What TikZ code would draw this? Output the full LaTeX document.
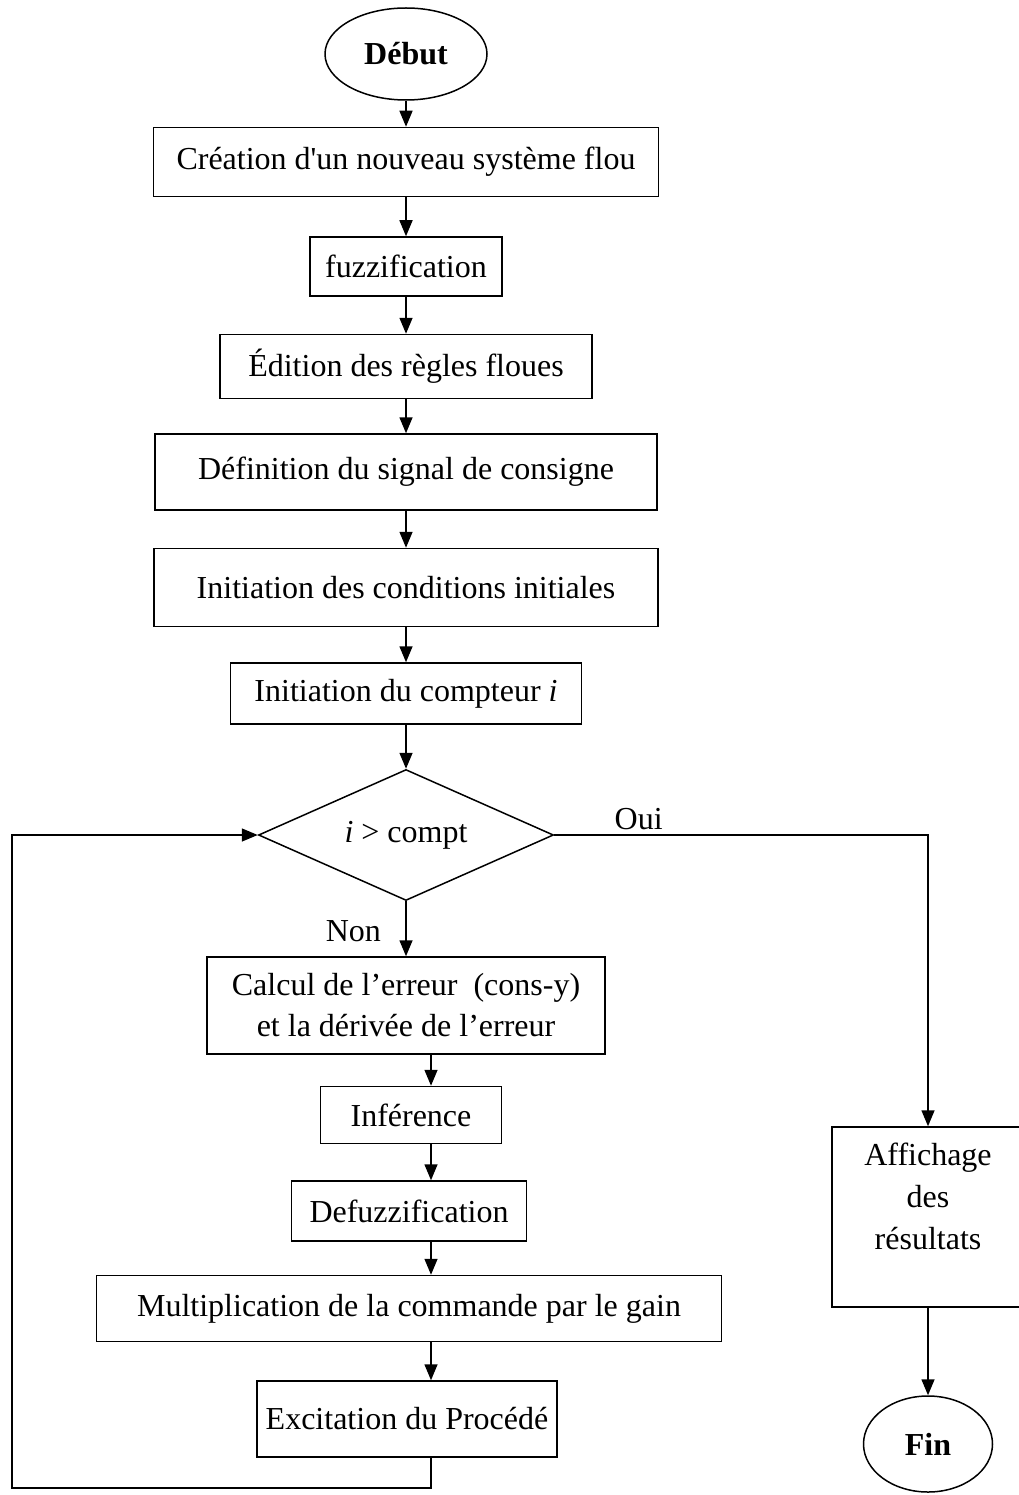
\documentclass[tikz,border=0pt]{standalone}
\usepackage{fontspec}
\newfontfamily\timesfont{Liberation Serif}
\usetikzlibrary{shapes.geometric, arrows.meta, positioning}

\begin{document}
\begin{tikzpicture}[
    x=1pt, y=1pt,
    every node/.style={font=\timesfont\fontsize{32}{41}\selectfont},
    box/.style={rectangle, draw, line width=1.5pt, inner sep=0pt, align=center},
    term/.style={ellipse, draw, line width=1.5pt, inner sep=0pt, font=\timesfont\bfseries\fontsize{32}{41}\selectfont},
    decision/.style={diamond, aspect=2.25, draw, line width=1.5pt, inner sep=0pt, minimum width=295pt, minimum height=131pt},
    arrow/.style={-{Triangle[length=16pt, width=13pt]}, line width=1.5pt}
]
    \useasboundingbox (0,0) rectangle (1018,-1495);

    % Main column
    \node[term, minimum width=162pt, minimum height=92pt] (debut) at (406,-54) {Début};
    \node[box, minimum width=505pt, minimum height=69pt, below=26pt of debut] (creation) {Création d'un nouveau système flou};
    \node[box, minimum width=192pt, minimum height=59pt, below=39pt of creation] (fuzz) {fuzzification};
    \node[box, minimum width=372pt, minimum height=64pt, below=37pt of fuzz] (edition) {Édition des règles floues};
    \node[box, minimum width=502pt, minimum height=76pt, below=34pt of edition] (consigne) {Définition du signal de consigne};
    \node[box, minimum width=504pt, minimum height=78pt, below=37pt of consigne] (condinit) {Initiation des conditions initiales};
    \node[box, minimum width=351pt, minimum height=61pt, below=35pt of condinit] (compteur) {Initiation du compteur \textit{i}};
    \node[decision, below=44pt of compteur] (test) {\textit{i} > compt};

    % Loop body
    \node[box, minimum width=398pt, minimum height=97pt, below=55pt of test] (erreur) {Calcul de l’erreur\ \ (cons-y)\\et la dérivée de l’erreur};
    \node[box, minimum width=181pt, minimum height=57pt, below=31pt of erreur, xshift=5pt] (inference) {Inférence};
    \node[box, minimum width=235pt, minimum height=60pt, below=36pt of inference, xshift=-2pt] (defuzz) {Defuzzification};
    \node[box, minimum width=625pt, minimum height=66pt, below=33pt of defuzz] (gain) {Multiplication de la commande par le gain};
    \node[box, minimum width=300pt, minimum height=76pt, below=38pt of gain, xshift=-2pt] (procede) {Excitation du Procédé};

    % Exit branch
    \node[box, minimum width=192pt, minimum height=180pt, font=\timesfont\fontsize{32}{42}\selectfont] (affichage) at (928,-1217) {Affichage\\des\\résultats\\\mbox{}};
    \node[term, minimum width=129pt, minimum height=96pt] (fin) at (928,-1444) {Fin};

    \coordinate (lowcol) at (431,0);
    \coordinate (loopcorner) at (12,-1488);

    % Arrows
    \draw[arrow] (debut.south) -- (creation.north);
    \draw[arrow] (creation.south) -- (fuzz.north);
    \draw[arrow] (fuzz.south) -- (edition.north);
    \draw[arrow] (edition.south) -- (consigne.north);
    \draw[arrow] (consigne.south) -- (condinit.north);
    \draw[arrow] (condinit.south) -- (compteur.north);
    \draw[arrow] (compteur.south) -- (test.north);
    \draw[arrow] (test.south) -- node[pos=0.55, left, xshift=-21pt] {Non} (erreur.north);
    \draw[arrow] (erreur.south -| lowcol) -- (inference.north -| lowcol);
    \draw[arrow] (inference.south -| lowcol) -- (defuzz.north -| lowcol);
    \draw[arrow] (defuzz.south -| lowcol) -- (gain.north -| lowcol);
    \draw[arrow] (gain.south -| lowcol) -- (procede.north -| lowcol);
    \draw[arrow] (procede.south -| lowcol) |- (loopcorner) |- (test.west);
    \draw[arrow] (test.east) -| node[pos=0.113, above, inner sep=4pt] {Oui} (affichage.north);
    \draw[arrow] (affichage.south) -- (fin.north);
\end{tikzpicture}
\end{document}
